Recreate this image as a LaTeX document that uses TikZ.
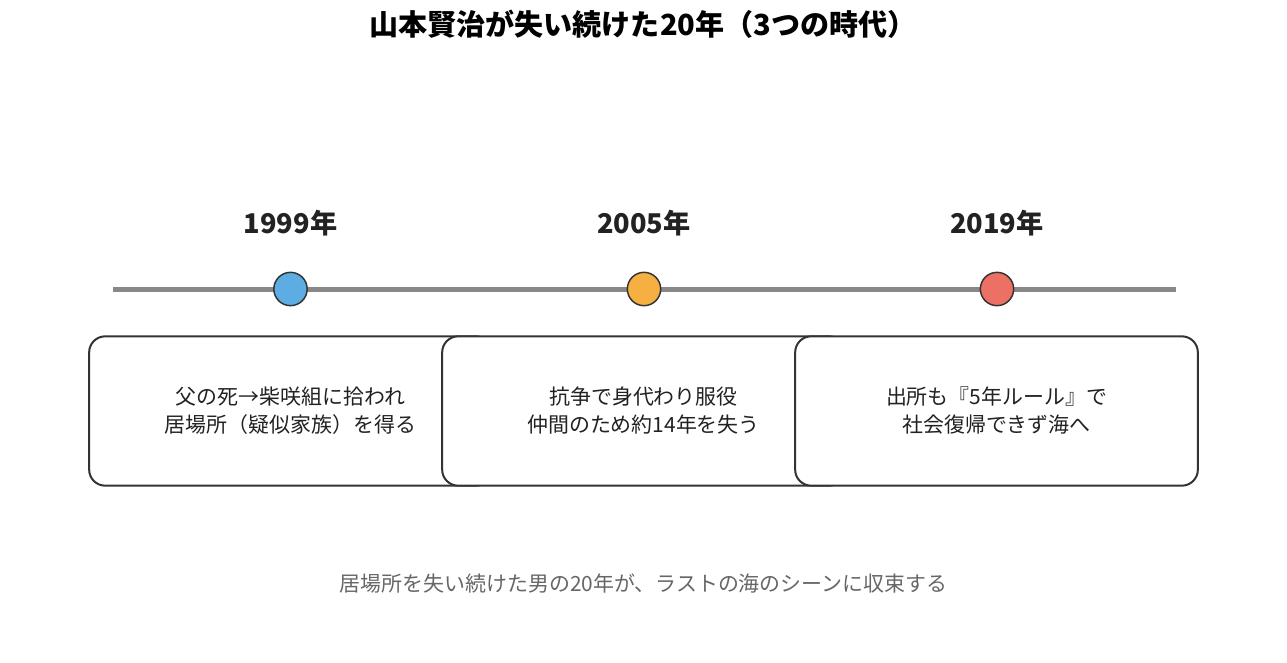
\documentclass[tikz,border=0pt]{standalone}
\usepackage{fontspec}
\setmainfont{Noto Sans CJK JP}
\usepackage{tikz}
\definecolor{linegray}{HTML}{888888}
\definecolor{edgegray}{HTML}{333333}
\definecolor{txtgray}{HTML}{222222}
\definecolor{capgray}{HTML}{666666}
\definecolor{dotblue}{HTML}{5DADE2}
\definecolor{dotorange}{HTML}{F5B041}
\definecolor{dotred}{HTML}{EC7063}
\tikzset{
  title/.style = {font=\bfseries\fontsize{21.8}{26}\selectfont, text=black},
  year/.style = {font=\bfseries\fontsize{20.4}{24}\selectfont, text=txtgray},
  tdot/.style = {circle, draw=edgegray, line width=1.1pt, minimum size=25pt, inner sep=0pt},
  evbox/.style = {rectangle, rounded corners=12pt, draw=edgegray, line width=1.5pt, fill=white,
    minimum width=302pt, minimum height=112pt, align=center, text=txtgray,
    font=\fontsize{15.7}{21}\selectfont},
  caption/.style = {font=\fontsize{15.7}{19}\selectfont, text=capgray}
}

\begin{document}
\begin{tikzpicture}[x=0.75pt,y=-0.75pt]
\useasboundingbox (0,0) rectangle (1287,663);
\node [title] (T) at (643,24) {山本賢治が失い続けた20年（3つの時代）};
% timeline
\coordinate (L) at (113,289);
\coordinate (R) at (1176,289);
\draw [linegray, line width=3.75pt] (L) -- (R);
\node [tdot, fill=dotblue] (D1) at (290.5,289) {};
\node [tdot, fill=dotorange] (D2) at (644,289) {};
\node [tdot, fill=dotred] (D3) at (997,289) {};
\node [year] (Y1) at (290.5,223) {1999年};
\node [year] (Y2) at (644,223) {2005年};
\node [year] (Y3) at (997,223) {2019年};
% event boxes
\node [evbox] (B1) at (290.5,411) {父の死→柴咲組に拾われ\\居場所（疑似家族）を得る};
\node [evbox] (B2) at (643.5,411) {抗争で身代わり服役\\仲間のため約14年を失う};
\node [evbox] (B3) at (996.5,411) {出所も『5年ルール』で\\社会復帰できず海へ};
\node [caption] (C) at (643.5,584) {居場所を失い続けた男の20年が、ラストの海のシーンに収束する};
\end{tikzpicture}
\end{document}
